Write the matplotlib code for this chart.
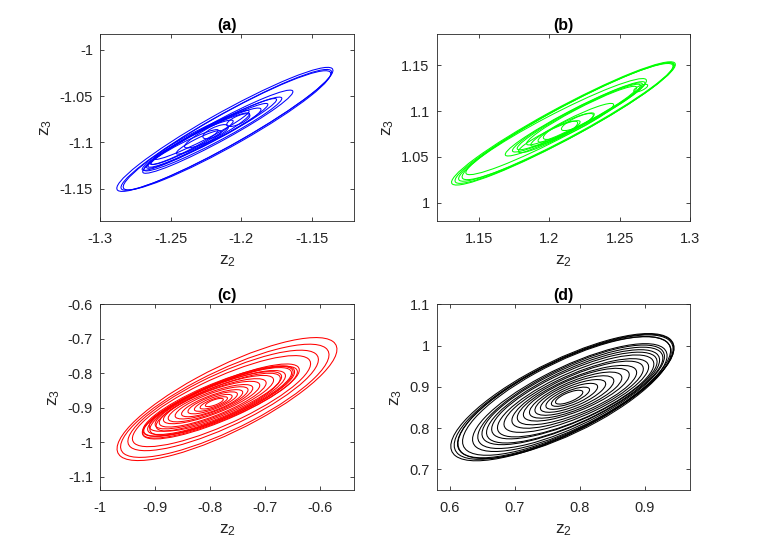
import matplotlib
matplotlib.use('Agg')
import matplotlib.pyplot as plt
from matplotlib.patches import Ellipse
from matplotlib.ticker import FormatStrFormatter

plt.rcParams['font.family'] = ['Liberation Sans', 'DejaVu Sans']
plt.rcParams['axes.unicode_minus'] = False

# loops of each trajectory: (centre z2, centre z3, width, height, angle)
loops_a = [
    (-1.2115, -1.0860, 0.201, 0.032, 41),
    (-1.2105, -1.0865, 0.196, 0.030, 41),
    (-1.2100, -1.0870, 0.193, 0.031, 41),
    (-1.2165, -1.0885, 0.138, 0.019, 40),
    (-1.2200, -1.0910, 0.125, 0.017, 39),
    (-1.2225, -1.0915, 0.122, 0.015, 39),
    (-1.2240, -1.0930, 0.110, 0.014, 39),
    (-1.2300, -1.0975, 0.092, 0.013, 39),
    (-1.2350, -1.1000, 0.075, 0.012, 39),
    (-1.2130, -1.0845, 0.068, 0.013, 38),
    (-1.2280, -1.0920, 0.085, 0.011, 38),
    (-1.2400, -1.1050, 0.060, 0.009, 38),
    (-1.2300, -1.1000, 0.040, 0.008, 38),
    (-1.2180, -1.0885, 0.022, 0.009, 38),
    (-1.2020, -1.0760, 0.020, 0.008, 38),
]
loops_b = [
    (1.2101, 1.0865, 0.206, 0.031, 40),
    (1.2110, 1.0870, 0.202, 0.030, 40),
    (1.2120, 1.0880, 0.198, 0.029, 40),
    (1.2130, 1.0885, 0.194, 0.030, 40),
    (1.2049, 1.0830, 0.164, 0.024, 39),
    (1.2184, 1.0915, 0.127, 0.018, 39),
    (1.2200, 1.0930, 0.118, 0.017, 39),
    (1.2210, 1.0935, 0.112, 0.016, 39),
    (1.2230, 1.0950, 0.100, 0.015, 39),
    (1.2163, 1.0850, 0.074, 0.013, 38),
    (1.2000, 1.0720, 0.055, 0.011, 38),
    (1.2120, 1.0820, 0.050, 0.011, 38),
    (1.2080, 1.0790, 0.030, 0.010, 38),
    (1.2200, 1.0880, 0.028, 0.009, 38),
    (1.2650, 1.1250, 0.012, 0.005, 38),
]
loops_c = [
    (-0.769, -0.875, 0.510, 0.165, 41),
    (-0.773, -0.880, 0.478, 0.152, 40),
    (-0.776, -0.879, 0.432, 0.136, 39),
    (-0.779, -0.881, 0.400, 0.122, 38),
    (-0.780, -0.882, 0.345, 0.098, 36),
    (-0.782, -0.884, 0.338, 0.094, 35),
    (-0.784, -0.881, 0.330, 0.096, 35),
    (-0.786, -0.883, 0.322, 0.090, 35),
    (-0.779, -0.880, 0.315, 0.092, 36),
    (-0.788, -0.885, 0.300, 0.086, 35),
    (-0.790, -0.882, 0.285, 0.082, 34),
    (-0.785, -0.884, 0.270, 0.080, 35),
    (-0.792, -0.884, 0.255, 0.074, 34),
    (-0.795, -0.886, 0.230, 0.068, 34),
    (-0.797, -0.885, 0.205, 0.062, 33),
    (-0.799, -0.887, 0.180, 0.055, 33),
    (-0.797, -0.886, 0.155, 0.048, 33),
    (-0.796, -0.887, 0.130, 0.041, 33),
    (-0.795, -0.886, 0.105, 0.034, 33),
    (-0.794, -0.886, 0.080, 0.027, 33),
    (-0.793, -0.886, 0.058, 0.020, 33),
    (-0.792, -0.885, 0.038, 0.014, 33),
]
loops_d = [
    (0.7736, 0.875, 0.435, 0.155, 41),
    (0.7760, 0.876, 0.428, 0.152, 41),
    (0.7780, 0.877, 0.420, 0.150, 41),
    (0.7770, 0.874, 0.414, 0.154, 41),
    (0.7800, 0.878, 0.405, 0.146, 41),
    (0.785, 0.874, 0.375, 0.132, 40),
    (0.787, 0.876, 0.360, 0.126, 40),
    (0.789, 0.878, 0.345, 0.120, 39),
    (0.790, 0.877, 0.330, 0.115, 39),
    (0.792, 0.879, 0.312, 0.108, 38),
    (0.794, 0.878, 0.295, 0.102, 38),
    (0.795, 0.879, 0.270, 0.093, 37),
    (0.797, 0.881, 0.245, 0.086, 37),
    (0.796, 0.880, 0.220, 0.078, 36),
    (0.795, 0.881, 0.195, 0.070, 36),
    (0.794, 0.880, 0.170, 0.062, 36),
    (0.792, 0.879, 0.145, 0.054, 36),
    (0.790, 0.878, 0.120, 0.045, 36),
    (0.788, 0.877, 0.095, 0.036, 36),
    (0.786, 0.876, 0.070, 0.027, 36),
    (0.784, 0.875, 0.050, 0.020, 36),
]

titles = ['(a)', '(b)', '(c)', '(d)']
colors = ['#0000ff', '#00ff00', '#ff0000', '#000000']
xlims = [(-1.3, -1.12), (1.12, 1.3), (-1.0, -0.538), (0.58, 0.97)]
ylims = [(-1.185, -0.983), (0.98, 1.184), (-1.139, -0.6), (0.65, 1.1)]
xticks = [[-1.3, -1.25, -1.2, -1.15], [1.15, 1.2, 1.25, 1.3],
          [-1.0, -0.9, -0.8, -0.7, -0.6], [0.6, 0.7, 0.8, 0.9]]
yticks = [[-1.15, -1.1, -1.05, -1.0], [1.0, 1.05, 1.1, 1.15],
          [-1.1, -1.0, -0.9, -0.8, -0.7, -0.6], [0.7, 0.8, 0.9, 1.0, 1.1]]
all_loops = [loops_a, loops_b, loops_c, loops_d]

# axes positions in figure fractions (left, bottom, width, height)
positions = [(0.131, 0.5945, 0.333, 0.343), (0.5723, 0.5945, 0.332, 0.343),
             (0.131, 0.1009, 0.333, 0.3407), (0.5723, 0.1009, 0.332, 0.3407)]

fig = plt.figure(figsize=(7.63, 5.45), dpi=100)
edge = '#262626'

for i in range(4):
    ax = fig.add_axes(positions[i])
    for cx, cy, w, h, ang in all_loops[i]:
        ax.add_patch(Ellipse((cx, cy), w, h, angle=ang, fill=False,
                             edgecolor=colors[i], linewidth=0.75))
    ax.set_xlim(xlims[i])
    ax.set_ylim(ylims[i])
    ax.set_xticks(xticks[i])
    ax.set_yticks(yticks[i])
    ax.xaxis.set_major_formatter(FormatStrFormatter('%g'))
    ax.yaxis.set_major_formatter(FormatStrFormatter('%g'))
    ax.tick_params(direction='in', length=3, width=0.6, top=True, right=True,
                   labelsize=10.5, colors=edge)
    ax.tick_params(axis='x', pad=8)
    ax.tick_params(axis='y', pad=5)
    for sp in ax.spines.values():
        sp.set_color(edge)
        sp.set_linewidth(0.6)
    ax.set_title(titles[i], fontsize=11.5, fontweight='bold', pad=3)
    ax.set_xlabel('$\\mathregular{z_2}$', fontsize=12.5, color=edge, labelpad=5)
    ax.set_ylabel('$\\mathregular{z_3}$', fontsize=12.5, color=edge, labelpad=4)

fig.savefig('out.png', dpi=100)
